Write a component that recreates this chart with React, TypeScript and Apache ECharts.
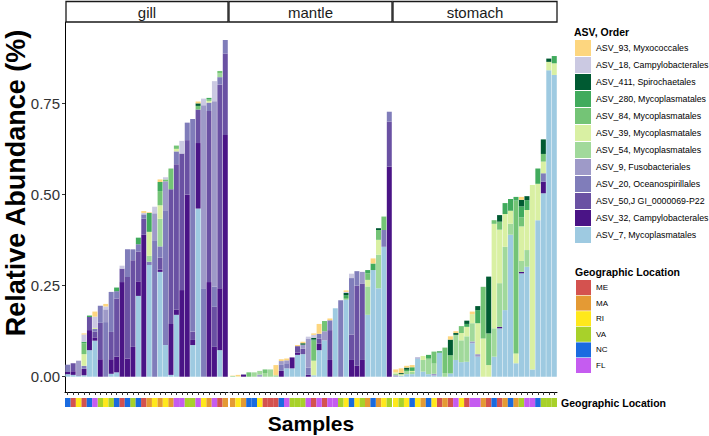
import React, { useEffect, useRef } from "react";
import * as echarts from "echarts";

const FONT = '"Liberation Sans", Arial, Helvetica, sans-serif';

const tissues = ["gill", "mantle", "stomach"];
// stacking order, bottom to top
const asvNames = [
  "ASV_7, Mycoplasmatales",
  "ASV_32, Campylobacterales",
  "ASV_50,J GI_0000069-P22",
  "ASV_20, Oceanospirillales",
  "ASV_9, Fusobacteriales",
  "ASV_54, Mycoplasmatales",
  "ASV_39, Mycoplasmatales",
  "ASV_84, Mycoplasmatales",
  "ASV_280, Mycoplasmatales",
  "ASV_411, Spirochaetales",
  "ASV_18, Campylobacterales",
  "ASV_93, Myxococcales",
];
const asvColors = [
  "#9ECAE1", "#4A1486", "#6A51A3", "#807DBA", "#9E9AC8", "#A1D99B",
  "#D9F0A3", "#74C476", "#41AB5D", "#005A32", "#CBC9E2", "#FDD67F",
];
const locNames = ["ME", "MA", "RI", "VA", "NC", "FL"];
const locColors = ["#D4524F", "#E49A34", "#FFE81C", "#A8D12A", "#1A6BE0", "#C55CF0"];
const yTicks = [0, 0.25, 0.5, 0.75];

// ---- gill ----
const gill7 = [.007,.005,.002,.004,.073,.099,0,0,.008,.012,0,0,0,.222,0,.307,0,.288,.087,.005,.17,0,0,.087,.462,0,0,0,.073,0];
const gill32 = [.006,.01,0,.018,.055,.009,.048,0,.04,.043,.26,.05,.082,.04,.39,0,0,.006,0,.14,.014,.238,.5,.014,.18,0,.26,.082,.17,.664];
const gill50 = [0,.022,0,0,.036,.016,.1,0,.075,.16,.037,.224,.238,.082,.044,0,0,.033,0,.37,.4,.375,.15,.023,.092,0,.47,.11,.56,.224];
const gill20 = [.02,0,0,.008,0,.007,.047,.15,.11,.02,0,.076,.03,.02,.012,.009,.375,.031,.37,0,.035,0,.048,.584,0,.243,.023,.055,.02,.037];
const gill9 = [0,0,.042,0,0,0,0,.035,0,0,0,0,0,0,0,0,.074,0,.08,0,0,0,0,0,0,.503,0,.51,0,0];
const gill54 = [0,0,0,0,0,0,0,0,0,0,0,0,0,0,0,.016,0,.076,0,0,0,0,0,0,0,0,0,0,.01,0];
const gill39 = [0,0,0,.032,0,.003,0,0,0,0,0,0,0,0,0,.066,0,.037,0,0,.007,0,0,0,0,0,.005,0,0,0];
const gill84 = [0,0,0,.03,0,0,0,0,0,0,0,0,0,0,0,0,0,.039,.005,.057,.009,0,0,0,.01,0,.004,0,.007,0];
const gill280 = [0,0,0,.004,.004,0,0,0,0,.01,0,0,0,.018,0,.052,0,.025,0,0,0,0,0,0,0,0,.004,0,0,0];
const gill411 = [0,0,0,0,0,0,0,0,0,0,0,0,0,0,0,0,0,0,0,0,0,0,0,0,.007,0,0,0,0,0];
const gill18 = [0,0,0,.02,0,.031,0,.008,0,0,.008,0,0,0,.004,0,.018,0,.006,0,0,.035,0,0,0,.018,0,.055,0,0];
const gill93 = [0,0,0,.003,0,.014,0,.007,0,0,0,0,0,0,.005,.002,0,.007,0,0,0,0,0,0,.005,0,0,0,0,0];
const gillGeo = ["NC","ME","RI","ME","NC","FL","VA","RI","VA","NC","ME","NC","VA","NC","ME","MA","RI","MA","RI","MA","FL","FL","VA","VA","FL","RI","MA","FL","ME","MA"];

// ---- mantle ----
const mantle7 = [0,0,0,0,0,0,0,0,0,0,.023,.023,.06,.062,0,.004,.073,.1,0,.188,0,.212,0,0,0,.17,.293,.243,.357,0];
const mantle32 = [0,0,.006,0,0,0,0,0,0,.016,0,.03,.006,0,.005,0,.018,0,.046,0,0,0,.046,.03,.046,0,0,0,0,.577];
const mantle50 = [0,0,0,0,0,0,0,0,0,0,0,0,.018,.015,0,0,.014,0,.082,0,0,0,.07,.22,.21,0,0,0,0,.124];
const mantle20 = [0,0,0,0,0,0,0,0,0,.018,.014,0,0,0,.02,0,.013,0,.027,0,.21,0,.155,.04,0,0,0,0,.046,.027];
const mantle9 = [0,0,.001,0,0,.006,0,0,0,.009,.008,0,0,.011,.08,0,0,.025,0,0,0,0,0,0,.032,0,0,0,0,0];
const mantle54 = [.002,0,0,0,.012,.01,.01,.02,.004,0,0,0,0,0,0,0,0,0,0,0,0,0,0,0,0,.078,0,.092,0,0];
const mantle39 = [0,.001,0,0,0,0,0,0,0,0,0,0,0,0,0,.04,0,0,0,0,0,0,0,0,0,.018,0,.041,0,0];
const mantle84 = [0,0,0,.012,0,0,.01,0,0,0,0,0,0,0,0,.055,0,.028,0,0,0,.004,0,0,0,.018,0,.027,.037,0];
const mantle280 = [0,0,0,0,0,0,0,0,0,0,0,0,0,0,0,.003,0,0,0,0,0,.008,0,0,0,.009,.018,0,0,0];
const mantle411 = [0,0,0,0,0,0,0,0,0,0,0,0,0,.004,0,.005,0,0,0,0,0,.006,0,0,0,0,0,.005,0,0];
const mantle18 = [0,0,0,0,0,0,0,0,0,0,0,0,0,0,.005,.008,0,0,0,0,0,.003,.012,0,0,0,0,0,0,0];
const mantle93 = [.001,.004,0,0,0,0,0,0,.028,.005,.005,0,.003,.004,0,.004,.027,0,.005,0,0,.004,0,0,0,0,.014,0,0,0];
const mantleGeo = ["MA","RI","MA","NC","NC","RI","ME","ME","ME","NC","FL","VA","VA","VA","FL","ME","FL","ME","FL","FL","VA","RI","NC","RI","VA","MA","NC","MA","RI","VA"];

// ---- stomach ----
const stomach7 = [0,.003,.007,.007,.05,.014,.007,.003,.066,0,.009,.046,.04,.041,.092,.055,0,0,.055,.133,.183,.39,.037,.284,.302,.02,.43,.504,.842,.829];
const stomach32 = [0,0,0,0,0,0,0,0,0,0,0,0,0,0,0,0,0,0,0,.004,0,0,0,.004,0,0,0,.032,0,0];
const stomach50 = [0,0,0,0,0,0,0,0,0,0,0,0,0,0,0,0,0,0,0,0,0,0,0,0,0,0,0,0,0,0];
const stomach20 = [0,0,0,0,0,0,0,0,0,0,0,0,0,0,0,0,0,0,0,0,0,0,0,0,0,0,0,.023,0,0];
const stomach9 = [.004,0,0,0,.003,0,0,.005,0,0,0,0,0,0,.005,.007,0,0,0,0,0,0,0,0,0,0,0,0,0,0];
const stomach54 = [.004,0,.008,.006,0,.032,.04,.028,0,.01,0,.069,.06,.07,.05,0,0,0,.078,.12,.174,.03,0,.03,.046,0,0,0,0,0];
const stomach39 = [.004,.004,0,.003,0,.011,0,0,0,0,0,0,.02,.026,.025,.085,.105,.032,.287,.147,.09,.036,.027,.095,.11,.507,.1,.032,.023,.032];
const stomach84 = [0,0,0,0,0,0,.004,.033,0,.07,.05,0,.019,0,0,0,.142,.087,.01,.022,0,0,.42,.025,0,0,0,.021,0,0];
const stomach280 = [0,0,.004,.01,0,0,.009,0,.004,0,0,0,0,.008,0,.036,0,0,0,0,.03,.032,.01,.03,.027,0,.042,0,0,.02];
const stomach411 = [0,.003,.006,0,0,0,0,0,0,0,.043,.005,0,.009,0,.011,0,.156,0,.018,0,0,0,.018,.011,0,0,.04,.009,0];
const stomach18 = [0,0,0,0,0,0,0,0,0,0,0,0,0,0,0,0,0,0,0,0,0,0,0,0,0,0,0,0,0,0];
const stomach93 = [.008,.013,.005,.006,0,0,0,0,0,0,.009,.005,0,0,.007,0,0,0,0,0,0,0,0,.008,0,0,0,0,0,0];
const stomachGeo = ["RI","VA","RI","NC","RI","MA","NC","RI","ME","MA","ME","FL","RI","ME","FL","FL","MA","ME","NC","ME","MA","NC","MA","VA","FL","FL","NC","VA","VA","VA"];

const panelSeries = [
  [gill7, gill32, gill50, gill20, gill9, gill54, gill39, gill84, gill280, gill411, gill18, gill93],
  [mantle7, mantle32, mantle50, mantle20, mantle9, mantle54, mantle39, mantle84, mantle280, mantle411, mantle18, mantle93],
  [stomach7, stomach32, stomach50, stomach20, stomach9, stomach54, stomach39, stomach84, stomach280, stomach411, stomach18, stomach93],
];
const panelGeo = [gillGeo, mantleGeo, stomachGeo];
const panelPrefix = ["G", "M", "S"];

const panels = [
  { left: 65, width: 163 },
  { left: 230, width: 162 },
  { left: 393, width: 164 },
];
const PANEL_TOP = 22;
const PANEL_H = 370;
const STRIP_TOP = 398;
const STRIP_H = 9;

export default function App() {
  const ref = useRef<HTMLDivElement>(null);
  useEffect(() => {
    if (!ref.current) return;
    const chart = echarts.init(ref.current, undefined, { renderer: "svg" });
    const samples = panelGeo.map((g, p) => g.map((_, i) => panelPrefix[p] + (i + 1)));

    const grid: any[] = [];
    const xAxis: any[] = [];
    const yAxis: any[] = [];
    const series: any[] = [];

    panels.forEach((pn, p) => {
      grid.push({ left: pn.left, width: pn.width, top: PANEL_TOP, height: PANEL_H });
      xAxis.push({
        gridIndex: p,
        type: "category",
        data: samples[p],
        axisLine: { show: true, onZero: false, lineStyle: { color: "#000", width: 1 } },
        axisTick: { show: true, alignWithLabel: true, interval: 0, length: 3, lineStyle: { color: "#333" } },
        axisLabel: { show: false },
        splitLine: { show: false },
      });
      yAxis.push({
        gridIndex: p,
        type: "value",
        min: -0.042,
        max: 0.9745,
        show: p === 0,
        axisLine: { show: true, lineStyle: { color: "#000", width: 1 } },
        axisTick: { show: true, length: 3, customValues: yTicks, lineStyle: { color: "#333" } },
        axisLabel: {
          customValues: yTicks,
          formatter: (v: number) => v.toFixed(2),
          fontSize: 15,
          color: "#333",
          margin: 5,
          fontFamily: FONT,
        },
        splitLine: { show: false },
      });
      panelSeries[p].forEach((vals, k) => {
        series.push({
          type: "bar",
          name: asvNames[k],
          xAxisIndex: p,
          yAxisIndex: p,
          stack: "asv" + p,
          data: vals,
          barCategoryGap: "8%",
          itemStyle: { color: asvColors[k] },
          emphasis: { disabled: true },
        });
      });
    });

    panels.forEach((pn, p) => {
      const gi = 3 + p;
      grid.push({ left: pn.left, width: pn.width, top: STRIP_TOP, height: STRIP_H });
      xAxis.push({ gridIndex: gi, type: "category", data: samples[p], show: false });
      yAxis.push({ gridIndex: gi, type: "value", min: 0, max: 1, show: false, splitLine: { show: false } });
      locNames.forEach((loc, j) => {
        series.push({
          type: "bar",
          name: loc,
          xAxisIndex: gi,
          yAxisIndex: gi,
          stack: "geo" + p,
          data: panelGeo[p].map((g) => (g === loc ? 1 : "-")),
          barCategoryGap: "0%",
          itemStyle: { color: locColors[j] },
          emphasis: { disabled: true },
        });
      });
    });

    const graphic: any[] = [];
    const stripBoxes = [
      { x: 66, w: 162 },
      { x: 229, w: 163 },
      { x: 393, w: 164 },
    ];
    stripBoxes.forEach((b, p) => {
      graphic.push({
        type: "rect",
        z: 10,
        shape: { x: b.x, y: 1.5, width: b.w, height: 20.5 },
        style: { fill: "#ffffff", stroke: "#1a1a1a", lineWidth: 1.3 },
      });
      graphic.push({
        type: "text",
        z: 11,
        x: b.x + b.w / 2,
        y: 12,
        style: { text: tissues[p], fontSize: 15, fontFamily: FONT, fill: "#1a1a1a", align: "center", verticalAlign: "middle" },
      });
    });
    graphic.push({
      type: "text",
      x: 16,
      y: 183,
      rotation: Math.PI / 2,
      style: { text: "Relative Abundance (%)", fontSize: 27, fontWeight: "bold", fontFamily: FONT, fill: "#000", align: "center", verticalAlign: "middle" },
    });
    graphic.push({
      type: "text",
      x: 311,
      y: 423,
      style: { text: "Samples", fontSize: 21, fontWeight: "bold", fontFamily: FONT, fill: "#000", align: "center", verticalAlign: "middle" },
    });
    graphic.push({
      type: "text",
      x: 561,
      y: 403,
      style: { text: "Geographic Location", fontSize: 10.5, fontWeight: "bold", fontFamily: FONT, fill: "#000", align: "left", verticalAlign: "middle" },
    });
    graphic.push({
      type: "text",
      x: 574,
      y: 32,
      style: { text: "ASV, Order", fontSize: 10.5, fontWeight: "bold", fontFamily: FONT, fill: "#000", align: "left", verticalAlign: "middle" },
    });
    graphic.push({
      type: "text",
      x: 575,
      y: 272,
      style: { text: "Geographic Location", fontSize: 10.5, fontWeight: "bold", fontFamily: FONT, fill: "#000", align: "left", verticalAlign: "middle" },
    });

    chart.setOption({
      animation: false,
      backgroundColor: "#fff",
      grid,
      xAxis,
      yAxis,
      series,
      legend: [
        {
          data: [...asvNames].reverse(),
          orient: "vertical",
          left: 575,
          top: 40,
          padding: 0,
          itemWidth: 16,
          itemHeight: 16,
          itemGap: 1,
          icon: "rect",
          selectedMode: false,
          textStyle: { fontSize: 8.8, color: "#000", fontFamily: FONT },
        },
        {
          data: locNames,
          orient: "vertical",
          left: 576,
          top: 280,
          padding: 0,
          itemWidth: 15,
          itemHeight: 15,
          itemGap: 0.6,
          icon: "rect",
          selectedMode: false,
          textStyle: { fontSize: 8, color: "#000", fontFamily: FONT },
        },
      ],
      graphic,
    });
    return () => chart.dispose();
  }, []);
  return (
    <div
      ref={ref}
      style={{ position: "absolute", left: 0, top: 0, width: 709, height: 436 }}
    />
  );
}
